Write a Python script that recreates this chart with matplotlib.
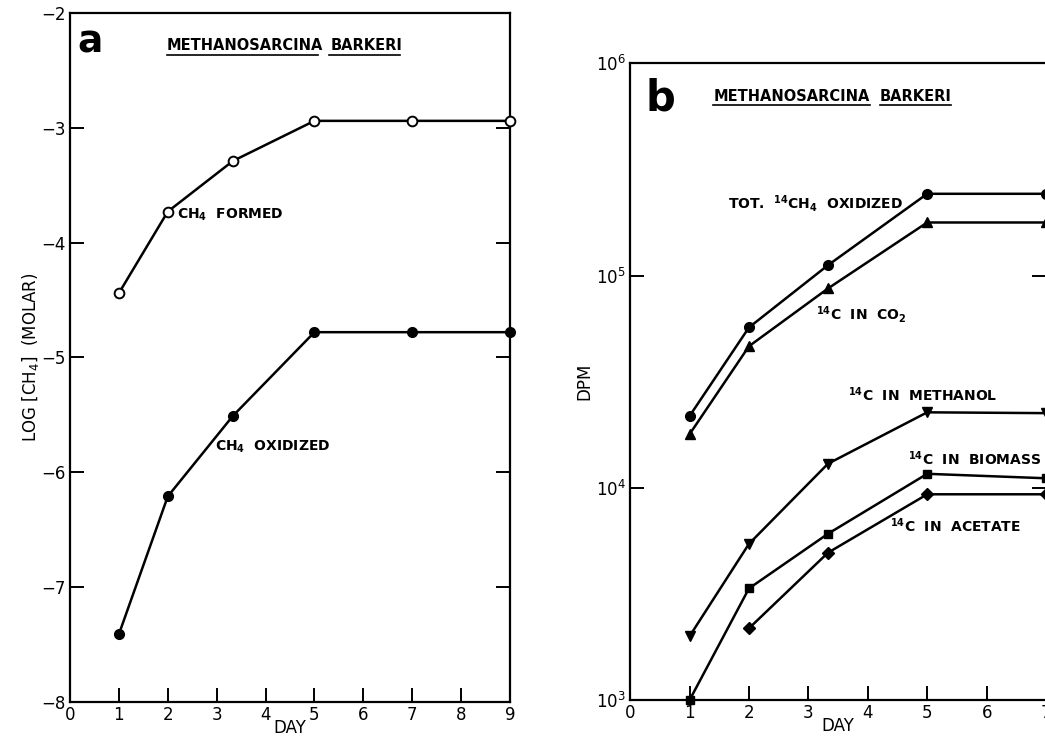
import numpy as np
import matplotlib
matplotlib.use('Agg')
import matplotlib.pyplot as plt
from matplotlib.ticker import LogLocator, LogFormatterMathtext, NullLocator

plt.rcParams['font.family'] = ['DejaVu Sans']
plt.rcParams['mathtext.default'] = 'bf'

# panel a: log molar CH4
days_a = [1, 2, 3.33, 5, 7, 9]
ch4_formed = [-4.44, -3.73, -3.29, -2.94, -2.94, -2.94]
ch4_oxidized = [-7.41, -6.21, -5.51, -4.78, -4.78, -4.78]

# panel b: DPM
days_b = [1, 2, 3.33, 5, 7]
tot_oxidized = [21800, 57000, 112000, 243000, 243000]
c14_co2 = [17900, 46500, 87000, 178000, 178000]
c14_methanol = [2000, 5450, 13000, 22700, 22500]
c14_biomass = [1000, 3360, 6080, 11650, 11100]
days_acetate = [2, 3.33, 5, 7]
c14_acetate = [2180, 4950, 9330, 9330]

fig = plt.figure(figsize=(10.45, 7.37), dpi=100)
ax1 = fig.add_axes([0.067, 0.0475, 0.421, 0.935])
ax2 = fig.add_axes([0.603, 0.050, 0.398, 0.864])

lw = 1.8
for ax in (ax1, ax2):
    for s in ax.spines.values():
        s.set_linewidth(1.6)
    ax.tick_params(direction='in', length=10, width=1.4, labelsize=12,
                   right=True, top=False, pad=3)

# ---- panel a
ax1.plot(days_a, ch4_formed, '-o', color='black', lw=lw, ms=7,
         mfc='white', mec='black', mew=1.4, clip_on=False, zorder=3)
ax1.plot(days_a, ch4_oxidized, '-o', color='black', lw=lw, ms=7,
         clip_on=False, zorder=3)
ax1.set_xlim(0, 9)
ax1.set_ylim(-8, -2)
ax1.set_xticks(range(0, 10))
ax1.set_yticks(range(-8, -1))
ax1.set_xlabel('DAY', fontsize=12, labelpad=-4)
ax1.set_ylabel(r'LOG $\left[\mathregular{CH_4}\right]$  (MOLAR)', fontsize=12, labelpad=0)
ax1.text(0.016, 0.943, 'a', transform=ax1.transAxes, fontsize=27,
         fontweight='bold', va='baseline', ha='left')
ax1.text(2.19, -3.76, r'CH$_4$  FORMED', fontsize=10, fontweight='bold', va='center')
ax1.text(2.97, -5.78, r'CH$_4$  OXIDIZED', fontsize=10, fontweight='bold', va='center')

ax1.text(0.22, 0.946, 'METHANOSARCINA', transform=ax1.transAxes, fontsize=10.5,
         fontweight='bold', va='baseline')
ax1.text(0.592, 0.946, 'BARKERI', transform=ax1.transAxes, fontsize=10.5,
         fontweight='bold', va='baseline')
ax1.plot([0.22, 0.563], [0.9395, 0.9395], transform=ax1.transAxes, color='black', lw=1.2)
ax1.plot([0.588, 0.75], [0.9395, 0.9395], transform=ax1.transAxes, color='black', lw=1.2)

# ---- panel b
ax2.set_yscale('log')
ax2.plot(days_b, tot_oxidized, '-o', color='black', lw=lw, ms=7, clip_on=False, zorder=3)
ax2.plot(days_b, c14_co2, '-^', color='black', lw=lw, ms=7, clip_on=False, zorder=3)
ax2.plot(days_b, c14_methanol, '-v', color='black', lw=lw, ms=7, clip_on=False, zorder=3)
ax2.plot(days_b, c14_biomass, '-s', color='black', lw=lw, ms=6, clip_on=False, zorder=3)
ax2.plot(days_acetate, c14_acetate, '-D', color='black', lw=lw, ms=6, clip_on=False, zorder=3)
ax2.set_xlim(0, 7)
ax2.set_ylim(1e3, 1e6)
ax2.set_xticks(range(0, 8))
ax2.yaxis.set_major_locator(LogLocator(base=10, numticks=10))
ax2.yaxis.set_major_formatter(LogFormatterMathtext())
ax2.yaxis.set_minor_locator(NullLocator())
ax2.set_xlabel('DAY', fontsize=12, labelpad=-4)
ax2.set_ylabel('DPM', fontsize=12, labelpad=2)
ax2.text(0.036, 0.926, 'b', transform=ax2.transAxes, fontsize=30,
         fontweight='bold', va='baseline', ha='left')

ax2.text(1.64, 2.18e5, r'TOT.  $^{14}$CH$_4$  OXIDIZED', fontsize=10, fontweight='bold', va='center')
ax2.text(3.12, 6.56e4, r'$^{14}$C  IN  CO$_2$', fontsize=10, fontweight='bold', va='center')
ax2.text(3.67, 2.76e4, r'$^{14}$C  IN  METHANOL', fontsize=10, fontweight='bold', va='center')
ax2.text(4.67, 1.37e4, r'$^{14}$C  IN  BIOMASS', fontsize=10, fontweight='bold', va='center')
ax2.text(4.37, 6.62e3, r'$^{14}$C  IN  ACETATE', fontsize=10, fontweight='bold', va='center')

ax2.text(0.2, 0.941, 'METHANOSARCINA', transform=ax2.transAxes, fontsize=10.5,
         fontweight='bold', va='baseline')
ax2.text(0.6, 0.941, 'BARKERI', transform=ax2.transAxes, fontsize=10.5,
         fontweight='bold', va='baseline')
ax2.plot([0.2, 0.577], [0.934, 0.934], transform=ax2.transAxes, color='black', lw=1.2)
ax2.plot([0.6, 0.772], [0.934, 0.934], transform=ax2.transAxes, color='black', lw=1.2)

fig.savefig('out.png', dpi=100)
